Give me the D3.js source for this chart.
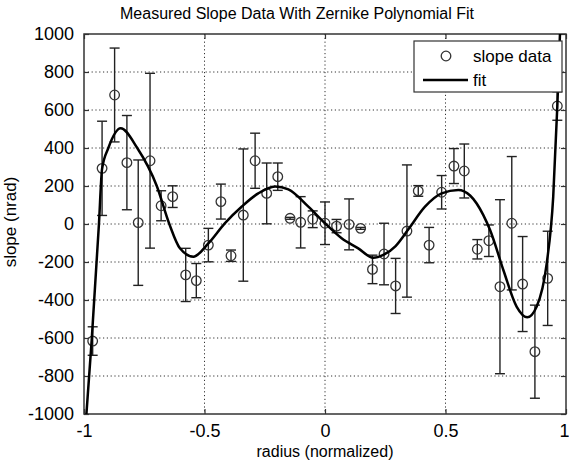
<!DOCTYPE html>
<html lang="en">

<head>
  <meta charset="UTF-8" />
  <title>Measured Slope Data With Zernike Polynomial Fit</title>
  <script src="https://d3js.org/d3.v7.min.js"></script>
  <style>
    body {
      margin: 0;
      background-color: white;
    }

    svg {
      display: block;
      font-family: 'Liberation Sans', Arial, sans-serif;
    }

    .tick text {
      font-size: 18px;
      fill: black;
    }

    .grid line {
      stroke: #333;
      stroke-width: 1;
      stroke-dasharray: 1.2, 2.6;
    }
  </style>
</head>

<body>
  <script>
    // measured slope data (radius normalized, slope in nrad)
    const dataX = [-0.964, -0.925, -0.873, -0.822, -0.775, -0.726, -0.680, -0.632, -0.578, -0.534,
      -0.484, -0.432, -0.390, -0.339, -0.290, -0.242, -0.196, -0.145, -0.101, -0.051,
      0.0, 0.048, 0.100, 0.148, 0.197, 0.245, 0.293, 0.340, 0.387, 0.432,
      0.484, 0.535, 0.578, 0.632, 0.680, 0.726, 0.775, 0.820, 0.871, 0.924, 0.964];
    const dataY = [-616, 293, 679, 323, 7, 333, 96, 144, -268, -298,
      -111, 118, -167, 47, 333, 161, 249, 30, 9, 25,
      4, -11, -2, -23, -239, -158, -326, -37, 174, -111,
      167, 305, 279, -133, -88, -330, 4, -316, -672, -286, 621];
    const dataErr = [75, 248, 247, 248, 330, 460, 79, 57, 140, 90,
      88, 92, 30, 348, 145, 160, 72, 5, 135, 44,
      112, 35, 134, 5, 75, 162, 145, 348, 28, 93,
      88, 92, 142, 51, 83, 458, 351, 250, 245, 248, 75];

    // fit curve
    const fitX = [-0.99, -0.968, -0.938, -0.925, -0.899, -0.848, -0.779, -0.698, -0.646, -0.602,
      -0.546, -0.484, -0.415, -0.346, -0.277, -0.207, -0.152, -0.069, 0, 0.069,
      0.138, 0.20, 0.242, 0.293, 0.346, 0.415, 0.484, 0.553, 0.602, 0.657,
      0.685, 0.740, 0.795, 0.839, 0.878, 0.920, 0.947, 0.964, 0.975];
    const fitY = [-1000, -610, 0, 290, 400, 504, 400, 200, 0, -128,
      -172, -102, 5, 91, 161, 197, 182, 91, 4, -75,
      -128, -178, -163, -116, -28, 91, 161, 179, 150, 47,
      -32, -242, -435, -491, -435, -207, 144, 621, 1000];

    const xTicks = [-1, -0.5, 0, 0.5, 1];
    const yTicks = [-1000, -800, -600, -400, -200, 0, 200, 400, 600, 800, 1000];

    const w = 569;
    const h = 462;
    const pLeft = 84, pRight = 566, pTop = 34, pBottom = 414;

    const svg = d3.select('body')
      .append('svg')
      .attr('width', w)
      .attr('height', h);

    const xScale = d3.scaleLinear().domain([-1, 1]).range([pLeft, pRight]);
    const yScale = d3.scaleLinear().domain([-1000, 1000]).range([pBottom, pTop]);

    // dotted grid
    const grid = svg.append('g').attr('class', 'grid');
    grid.selectAll('.gx')
      .data(xTicks.slice(1, -1))
      .enter()
      .append('line')
      .attr('x1', d => xScale(d))
      .attr('x2', d => xScale(d))
      .attr('y1', pTop)
      .attr('y2', pBottom);
    grid.selectAll('.gy')
      .data(yTicks.slice(1, -1))
      .enter()
      .append('line')
      .attr('x1', pLeft)
      .attr('x2', pRight)
      .attr('y1', d => yScale(d))
      .attr('y2', d => yScale(d));

    // axes, matlab style ticks inside, plain hyphen minus
    const xAxis = d3.axisBottom(xScale).tickValues(xTicks).tickSize(-5).tickPadding(10)
      .tickFormat(d => String(d));
    const yAxis = d3.axisLeft(yScale).tickValues(yTicks).tickSize(-5).tickPadding(10)
      .tickFormat(d => String(d));

    svg.append('g')
      .attr('transform', `translate(0,${pBottom})`)
      .call(xAxis)
      .call(g => g.select('.domain').remove())
      // last label sits on the picture edge
      .call(g => g.selectAll('.tick text').filter(d => d === 1)
        .attr('text-anchor', 'end').attr('x', 569 - pRight));
    svg.append('g')
      .attr('transform', `translate(${pLeft},0)`)
      .call(yAxis)
      .call(g => g.select('.domain').remove());
    svg.append('g')
      .attr('transform', `translate(0,${pTop})`)
      .call(d3.axisTop(xScale).tickValues(xTicks).tickSize(-5).tickFormat(''))
      .call(g => g.select('.domain').remove());
    svg.append('g')
      .attr('transform', `translate(${pRight},0)`)
      .call(d3.axisRight(yScale).tickValues(yTicks).tickSize(-5).tickFormat(''))
      .call(g => g.select('.domain').remove());

    svg.selectAll('.tick line').attr('stroke', '#333').attr('stroke-width', 1.2);

    svg.append('rect')
      .attr('x', pLeft)
      .attr('y', pTop)
      .attr('width', pRight - pLeft)
      .attr('height', pBottom - pTop)
      .attr('fill', 'none')
      .attr('stroke', '#333')
      .attr('stroke-width', 1.5);

    svg.append('clipPath')
      .attr('id', 'plotclip')
      .append('rect')
      .attr('x', pLeft)
      .attr('y', pTop)
      .attr('width', pRight - pLeft)
      .attr('height', pBottom - pTop);

    // error bars
    const pts = dataX.map((x, i) => ({ x: x, y: dataY[i], e: dataErr[i] }));
    const bars = svg.append('g')
      .attr('stroke', '#222')
      .attr('stroke-width', 1.4)
      .attr('clip-path', 'url(#plotclip)');
    bars.selectAll('.ev')
      .data(pts)
      .enter()
      .append('line')
      .attr('x1', d => xScale(d.x))
      .attr('x2', d => xScale(d.x))
      .attr('y1', d => yScale(d.y - d.e))
      .attr('y2', d => yScale(d.y + d.e));
    ['top', 'bot'].forEach(side => {
      bars.selectAll('.cap' + side)
        .data(pts)
        .enter()
        .append('line')
        .attr('x1', d => xScale(d.x) - 5)
        .attr('x2', d => xScale(d.x) + 5)
        .attr('y1', d => yScale(side == 'top' ? d.y + d.e : d.y - d.e))
        .attr('y2', d => yScale(side == 'top' ? d.y + d.e : d.y - d.e));
    });

    // data circles
    svg.append('g')
      .selectAll('circle')
      .data(pts)
      .enter()
      .append('circle')
      .attr('cx', d => xScale(d.x))
      .attr('cy', d => yScale(d.y))
      .attr('r', 4.8)
      .attr('fill', 'none')
      .attr('stroke', '#333')
      .attr('stroke-width', 1.3);

    // fit line
    const line = d3.line()
      .x(d => xScale(d[0]))
      .y(d => yScale(d[1]))
      .curve(d3.curveMonotoneX);
    svg.append('path')
      .datum(fitX.map((x, i) => [x, fitY[i]]))
      .attr('d', line)
      .attr('fill', 'none')
      .attr('stroke', 'black')
      .attr('stroke-width', 2.5)
      .attr('clip-path', 'url(#plotclip)');

    // legend
    const lg = svg.append('g');
    lg.append('rect')
      .attr('x', 414)
      .attr('y', 41)
      .attr('width', 148)
      .attr('height', 51)
      .attr('fill', 'white')
      .attr('stroke', '#333')
      .attr('stroke-width', 1.2);
    lg.append('circle')
      .attr('cx', 446)
      .attr('cy', 56)
      .attr('r', 4.8)
      .attr('fill', 'none')
      .attr('stroke', '#333')
      .attr('stroke-width', 1.3);
    lg.append('line')
      .attr('x1', 423)
      .attr('x2', 468)
      .attr('y1', 80)
      .attr('y2', 80)
      .attr('stroke', 'black')
      .attr('stroke-width', 2.5);
    lg.append('text')
      .attr('x', 473)
      .attr('y', 62)
      .attr('font-size', '17px')
      .text('slope data');
    lg.append('text')
      .attr('x', 473)
      .attr('y', 86)
      .attr('font-size', '17px')
      .text('fit');

    // titles
    svg.append('text')
      .attr('x', 297)
      .attr('y', 19)
      .attr('text-anchor', 'middle')
      .attr('font-size', '16px')
      .text('Measured Slope Data With Zernike Polynomial Fit');

    svg.append('text')
      .attr('x', 325)
      .attr('y', 457)
      .attr('text-anchor', 'middle')
      .attr('font-size', '16px')
      .text('radius (normalized)');

    svg.append('text')
      .attr('transform', `translate(16, 222) rotate(-90)`)
      .attr('text-anchor', 'middle')
      .attr('font-size', '17px')
      .text('slope (nrad)');
  </script>
</body>

</html>
